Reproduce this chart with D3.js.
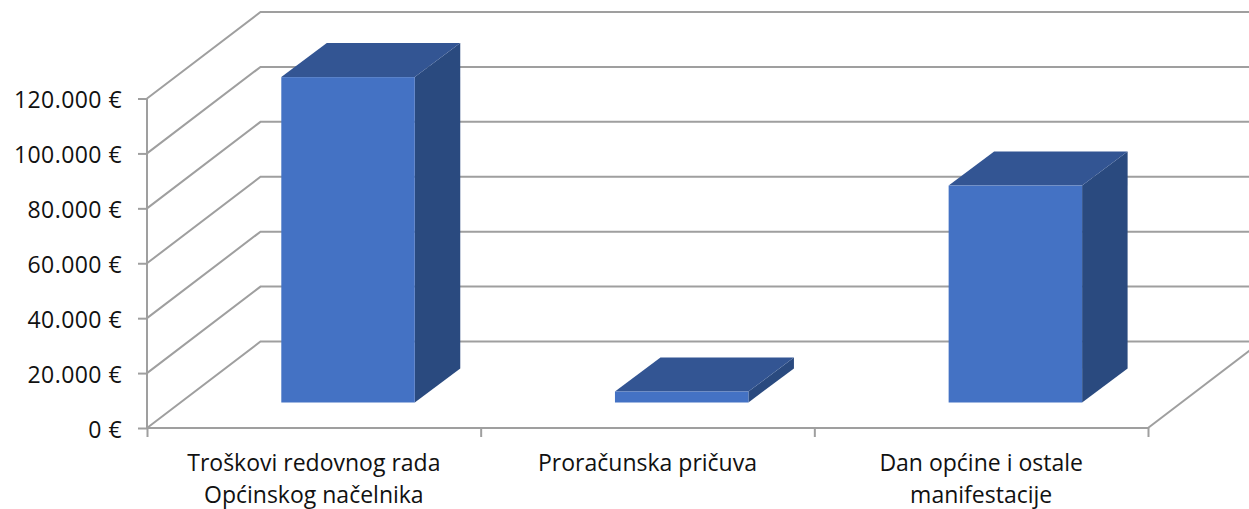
<!DOCTYPE html>
<html><head><meta charset="utf-8">
<script src="https://cdn.jsdelivr.net/npm/d3@7"></script>
<style>
html,body{margin:0;padding:0;background:#fff;overflow:hidden}
text{font-family:"Open Sans",sans-serif;fill:#111}
</style></head><body>
<svg id="c" width="1249" height="509"></svg>
<script>
const categories = [["Troškovi redovnog rada","Općinskog načelnika"],["Proračunska pričuva"],["Dan općine i ostale","manifestacije"]];
const categoryKeys = ["a","b","c"];
const values = [118500, 4000, 79000];
const yTicks = [0,20000,40000,60000,80000,100000,120000];

const W=1249,H=509;
const left=147,right=1148,floorY=428,topY=98.5;
const depthX=113.5,depthY=86.5;           // wall depth
const barDepthX=45.5,barDepthY=34;        // bar depth
const inX=34.2,inY=25.5;                  // bar inset from front of floor
const grid="#9f9f9f",gridW=2;
const fs=23;

const x=d3.scaleBand().domain(categoryKeys).range([left,right]).paddingInner(.6).paddingOuter(.3);
const y=d3.scaleLinear().domain([0,120000]).range([floorY,topY]);
const svg=d3.select("#c");
const loc=d3.formatLocale({decimal:",",thousands:".",grouping:[3],currency:["","€"]});
const fmt=v=>loc.format(",.0f")(v)+" €";

// walls
const g=svg.append("g");
g.selectAll("path.wall").data(yTicks).join("path").attr("class","wall")
 .attr("fill","none").attr("stroke",grid).attr("stroke-width",gridW)
 .attr("d",v=>`M${left},${y(v)}L${left+depthX},${y(v)-depthY}L${right+depthX},${y(v)-depthY}`);
g.append("path").attr("fill","none").attr("stroke",grid).attr("stroke-width",gridW)
 .attr("d",`M${right},${floorY}L${right+depthX},${floorY-depthY}`);

// axes
const ya=svg.append("g").attr("transform",`translate(${left},0)`)
 .call(d3.axisLeft(y).tickValues(yTicks).tickFormat(fmt).tickSize(9).tickPadding(16));
const xs=d3.scaleLinear().domain([0,3]).range([left,right]);
const xa=svg.append("g").attr("transform",`translate(0,${floorY})`)
 .call(d3.axisBottom(xs).tickValues([0,1,2,3]).tickFormat("").tickSize(9));
[ya,xa].forEach(a=>{a.selectAll("line").attr("stroke",grid).attr("stroke-width",gridW);a.select(".domain").remove();});
svg.append("path").attr("fill","none").attr("stroke",grid).attr("stroke-width",gridW).attr("d",`M${left},${topY}V${floorY}H${right}`);
ya.selectAll("text").attr("font-size",fs).attr("letter-spacing",0.45).attr("fill","#111").attr("font-family",'"Open Sans",sans-serif').attr("dy",".4em");

// category labels
const lab=svg.append("g").selectAll("text").data(categories).join("text")
 .attr("text-anchor","middle").attr("font-size",fs)
 .attr("transform",(d,i)=>`translate(${x(categoryKeys[i])+x.bandwidth()/2},0)`);
lab.selectAll("tspan").data(d=>d).join("tspan").attr("x",0).attr("y",(d,i)=>471+i*32).text(d=>d);

// bars
const bw=x.bandwidth();
const bars=svg.append("g").selectAll("g").data(values).join("g")
 .attr("transform",(d,i)=>`translate(${x(categoryKeys[i])+inX},${-inY})`);
bars.append("path").attr("fill","#2a4a7f")
 .attr("d",d=>`M${bw},${y(d)}l${barDepthX},${-barDepthY}V${floorY-barDepthY}l${-barDepthX},${barDepthY}Z`);
bars.append("path").attr("fill","#335593")
 .attr("d",d=>`M0,${y(d)}l${barDepthX},${-barDepthY}h${bw}l${-barDepthX},${barDepthY}Z`);
bars.append("rect").attr("fill","#4472c4").attr("x",0).attr("width",bw)
 .attr("y",d=>y(d)).attr("height",d=>floorY-y(d));
</script></body></html>
